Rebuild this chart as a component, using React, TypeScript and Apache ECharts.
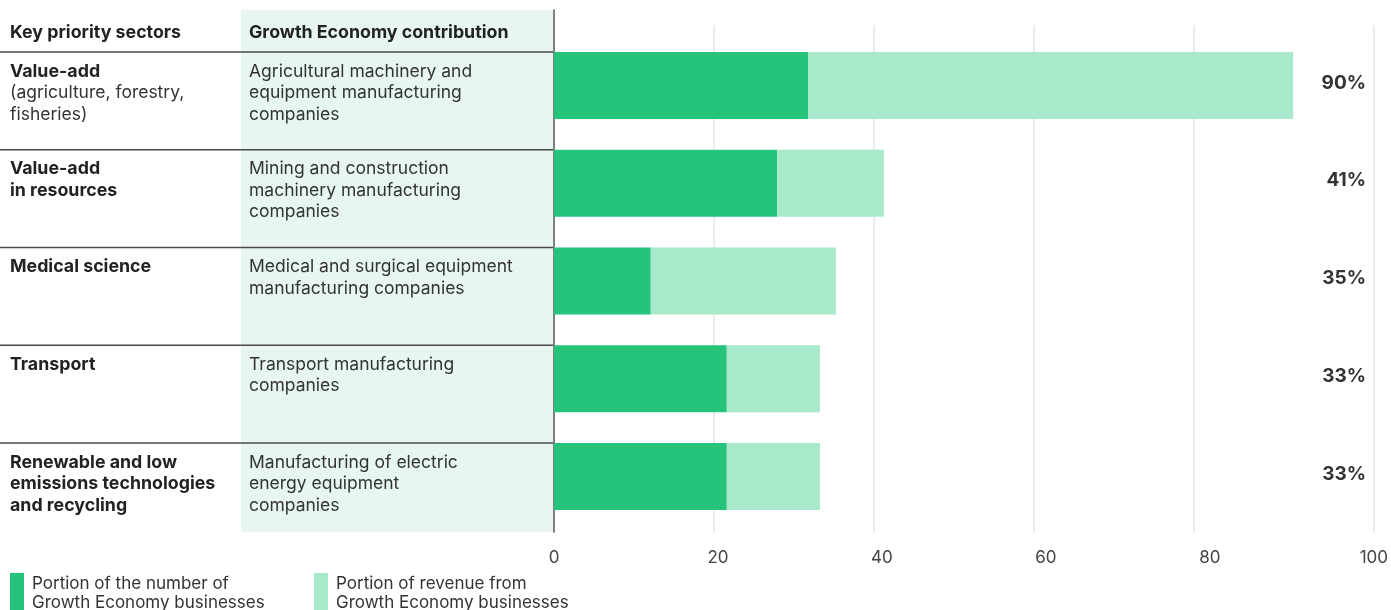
import React, { useEffect, useRef } from "react";
import * as echarts from "echarts";

const sectors = [
  "Value-add",
  "Value-add\nin resources",
  "Medical science",
  "Transport",
  "Renewable and low\nemissions technologies\nand recycling",
];
const sectorNotes = ["(agriculture, forestry,\nfisheries)", "", "", "", ""];
const contributions = [
  "Agricultural machinery and\nequipment manufacturing\ncompanies",
  "Mining and construction\nmachinery manufacturing\ncompanies",
  "Medical and surgical equipment\nmanufacturing companies",
  "Transport manufacturing\ncompanies",
  "Manufacturing of electric\nenergy equipment\ncompanies",
];
const numberShare = [31.75, 27.9, 12.1, 21.6, 21.6];
const revenueShare = [60.65, 13.35, 23.15, 11.65, 11.65];
const totalLabels = ["90%", "41%", "35%", "33%", "33%"];
const headers = ["Key priority sectors", "Growth Economy contribution"];
const legendNames = [
  "Portion of the number of\nGrowth Economy businesses",
  "Portion of revenue from\nGrowth Economy businesses",
];

const FONT = "Inter, 'Liberation Sans', Arial, sans-serif";
const DARK = "#26C47B";
const LIGHT = "#A8E8CB";
const GRID = "#EBEBEB";
const BAR_W = 67;
const FS_REG = 17.5;
const FS_BOLD = 17.8;

export default function App() {
  const ref = useRef<HTMLDivElement>(null);
  useEffect(() => {
    const chart = echarts.init(ref.current!, null, { renderer: "svg" });
    const legendBase = {
      icon: "rect",
      itemWidth: 14,
      itemHeight: 38,
      top: 573,
      padding: 0,
      orient: "horizontal",
      selectedMode: false,
      textStyle: {
        fontFamily: FONT,
        fontSize: 17,
        color: "#333",
        lineHeight: 19,
        padding: [0, 0, 0, 3],
      },
    };
    chart.setOption({
      animation: false,
      textStyle: { fontFamily: FONT },
      grid: [
        { left: 554, right: 17, top: 25, bottom: 78 },
        { left: 554, width: 800, top: 25, bottom: 78 },
        { left: 554, width: 800, top: 36.625, height: 97.75 * 5 },
        { left: 554, width: 800, top: 10, bottom: 78 },
      ],
      xAxis: [
        {
          gridIndex: 0,
          type: "value",
          min: 0,
          max: 100,
          interval: 20,
          axisLine: { show: false },
          axisTick: { show: false },
          axisLabel: { fontSize: 17, color: "#444", margin: 16, fontFamily: FONT },
          splitLine: {
            show: true,
            showMinLine: false,
            lineStyle: {
              width: 2,
              color: ["transparent", "transparent", "transparent", "transparent", GRID],
            },
          },
        },
        {
          gridIndex: 1,
          type: "value",
          min: 0,
          max: 100,
          interval: 20,
          axisLine: { show: false },
          axisTick: { show: false },
          axisLabel: { show: false },
          splitLine: {
            show: true,
            showMinLine: false,
            showMaxLine: false,
            lineStyle: { width: 2, color: GRID },
          },
        },
        { gridIndex: 2, type: "value", min: 0, max: 100, show: false },
        { gridIndex: 3, type: "value", min: 0, max: 100, show: false },
      ],
      yAxis: [
        { gridIndex: 0, type: "value", show: false },
        { gridIndex: 1, type: "value", show: false },
        {
          gridIndex: 2,
          type: "category",
          inverse: true,
          data: sectors,
          show: false,
        },
        {
          gridIndex: 2,
          type: "category",
          inverse: true,
          position: "right",
          data: sectors,
          axisLine: { show: false },
          axisTick: { show: false },
          splitLine: { show: false },
          axisLabel: {
            formatter: (_v: string, i: number) => totalLabels[i],
            align: "right",
            verticalAlign: "bottom",
            lineHeight: 7,
            margin: 12,
            fontSize: 19,
            fontWeight: "bold",
            color: "#333",
            fontFamily: FONT,
          },
        },
        {
          gridIndex: 3,
          type: "value",
          min: 0,
          max: 1,
          axisLine: { show: true, lineStyle: { color: "#555", width: 1.5 } },
          axisTick: { show: false },
          axisLabel: { show: false },
          splitLine: { show: false },
        },
      ],
      legend: [
        { ...legendBase, left: 10, data: [legendNames[0]] },
        { ...legendBase, left: 314, data: [legendNames[1]] },
      ],
      series: [
        {
          name: legendNames[0],
          type: "bar",
          xAxisIndex: 2,
          yAxisIndex: 2,
          stack: "total",
          barWidth: BAR_W,
          itemStyle: { color: DARK },
          data: numberShare,
        },
        {
          name: legendNames[1],
          type: "bar",
          xAxisIndex: 2,
          yAxisIndex: 2,
          stack: "total",
          barWidth: BAR_W,
          itemStyle: { color: LIGHT },
          data: revenueShare,
        },
      ],
    });

    const graphics: any[] = [
      {
        type: "rect",
        shape: { x: 241, y: 10, width: 312, height: 522 },
        style: { fill: "#E7F6EF" },
        z: 0,
      },
      {
        type: "text",
        x: 10,
        y: 31,
        style: {
          text: headers[0],
          fontFamily: FONT,
          fontSize: FS_BOLD,
          fontWeight: "bold",
          fill: "#222",
          verticalAlign: "middle",
        },
      },
      {
        type: "text",
        x: 249,
        y: 31,
        style: {
          text: headers[1],
          fontFamily: FONT,
          fontSize: FS_BOLD,
          fontWeight: "bold",
          fill: "#222",
          verticalAlign: "middle",
        },
      },
    ];

    sectors.forEach((s, i) => {
      const cy = chart.convertToPixel({ yAxisIndex: 2 } as any, i) as number;
      const top = cy - BAR_W / 2;
      graphics.push({
        type: "line",
        shape: { x1: 0, y1: top, x2: 553, y2: top },
        style: { stroke: "#4a4a4a", lineWidth: 1.3 },
        z: 5,
      });
      const lines = s.split("\n").map((l) => `{b|${l}}`);
      if (sectorNotes[i]) sectorNotes[i].split("\n").forEach((l) => lines.push(`{r|${l}}`));
      graphics.push({
        type: "text",
        x: 10,
        y: top + 7.25,
        style: {
          text: lines.join("\n"),
          verticalAlign: "top",
          rich: {
            b: { fontFamily: FONT, fontSize: FS_BOLD, fontWeight: "bold", fill: "#222", lineHeight: 21.5 },
            r: { fontFamily: FONT, fontSize: FS_REG, fill: "#333", lineHeight: 21.5 },
          },
        },
        z: 5,
      });
      graphics.push({
        type: "text",
        x: 249,
        y: top + 7.25,
        style: {
          text: contributions[i],
          fontFamily: FONT,
          fontSize: FS_REG,
          fill: "#333",
          lineHeight: 21.5,
          verticalAlign: "top",
        },
        z: 5,
      });
    });

    chart.setOption({ graphic: graphics });
    return () => chart.dispose();
  }, []);
  return (
    <div
      ref={ref}
      style={{ position: "fixed", left: 0, top: 0, width: 1391, height: 610 }}
    />
  );
}
